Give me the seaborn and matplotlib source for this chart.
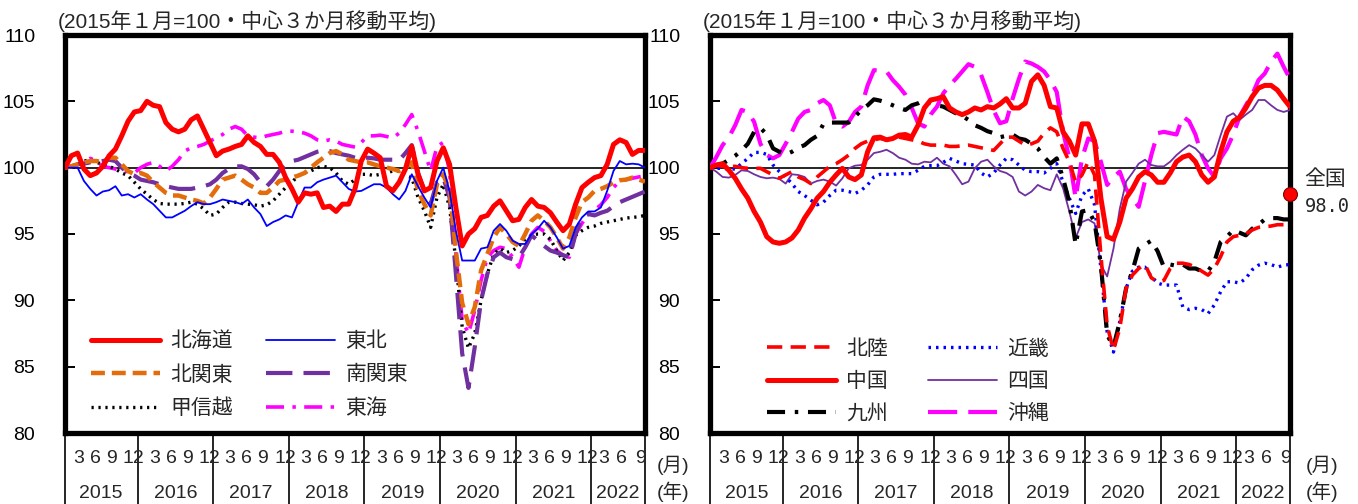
import matplotlib
matplotlib.use("Agg")
import matplotlib.pyplot as plt
import matplotlib.transforms as mtransforms
import pandas as pd
import seaborn as sns

# ---------------- data ----------------
months = list(range(93))  # 2015-01 .. 2022-09
year_labels = ["2015", "2016", "2017", "2018", "2019", "2020", "2021", "2022"]
month_labels = ["3", "6", "9", "12"]
last_month_labels = ["3", "6", "9"]

hokkaido = [100, 100.9, 101.1, 99.9, 99.4, 99.6, 100.1, 100.9, 101.4, 102.4, 103.5, 104.2, 104.3, 105.0, 104.7, 104.6,
            103.4, 102.9, 102.7, 102.9, 103.6, 103.9, 102.9, 101.9, 100.9, 101.25, 101.4, 101.6, 101.75, 102.4, 101.9,
            101.6, 101.0, 101.0, 100.4, 99.25, 98.4, 97.4, 98.1, 98.0, 98.1, 97.0, 97.1, 96.7, 97.25, 97.25, 98.4,
            100.5, 101.4, 101.1, 100.75, 98.6, 98.25, 98.9, 99.9, 101.6, 99.5, 98.25, 98.5, 100.5, 101.5, 100.25, 97,
            94.1, 95.0, 95.4, 96.25, 96.4, 97.1, 97.5, 96.75, 96.0, 96.1, 97.0, 97.6, 97.1, 97.0, 96.6, 95.9, 95.25,
            95.75, 97.25, 98.5, 98.9, 99.25, 99.4, 100.25, 101.75, 102.1, 101.9, 101, 101.3, 101.3]
tohoku = [100, 100, 100, 99, 98.4, 97.9, 98.2, 98.3, 98.6, 97.9, 98, 97.75, 98, 97.6, 97.25, 96.75, 96.25, 96.25, 96.5,
          96.75, 97.1, 97.4, 97.25, 97.25, 97.4, 97.6, 97.5, 97.4, 97.25, 97.6, 97, 96.5, 95.6, 95.9, 96.1, 96.4, 96.25,
          97.4, 98.5, 98.5, 98.9, 99.1, 99.25, 99.4, 98.9, 98.4, 98.2,
          98.25, 98.5, 98.75, 98.75, 98.5, 98, 97.6, 98.25, 99.5, 98.6, 97.75, 97, 99, 100, 98.25, 95.25, 93, 93, 93,
          93.9, 94, 95.25, 95.75, 95.25, 94.5, 94.25, 94.25, 95, 95.4, 96, 95.5, 94.75, 93.9, 94.1, 95.5, 96.25, 96.7,
          96.7, 97, 98.25, 99.75, 100.5, 100.25, 100.3, 100.25, 100]
kitakanto = [100, 100.1, 100.25, 100.4, 100.5, 100.5, 100.4, 100.75, 100.75, 100.25, 99.75, 99.5, 99.6, 99.4, 98.9, 98.5,
             98.1, 97.9, 97.9, 97.75, 97.6, 97.5, 97.3, 97.75, 98.4, 99.1, 99.25, 99.4, 99.1, 98.75, 98.5, 98.1, 98.1,
             98.5, 99, 99.1, 99.25, 99.4, 99.6, 100, 100.4, 100.75, 101.1, 101.25, 101, 100.6, 100.5,
             100.4, 100.4, 100.25, 100.1, 100, 99.9, 99.75, 100, 100.4, 98.25, 97.25, 96.4, 98.75, 99.5, 98.25, 93.75,
             89.8, 88.2, 89.5, 92.25, 93.5, 94.75, 95.5, 95, 94.4, 94.1, 95, 96, 96.4, 96, 95.5, 94.75, 93.9, 94.75,
             96.25, 97.4, 97.75, 98.25, 98.4, 98.6, 98.9, 99.05, 99.1, 99.25, 99.1, 98.95]
minamikanto = [100, 100.1, 100.25, 100.3, 100.4, 100.4, 100.5, 100.6, 100.5, 100, 99.6, 99.4, 99.1, 99, 98.9, 98.75,
               98.6, 98.5, 98.4, 98.4, 98.4, 98.5, 98.6, 98.75, 99.1, 99.6, 99.9, 100.1, 100.1, 99.9, 99.5, 98.9, 98.6,
               99.1, 99.75, 100.25, 100.5, 100.6, 100.8, 101, 101.2, 101.3, 101.25, 101.1, 101, 100.9, 100.75,
               100.75, 100.75, 100.7, 100.6, 100.6, 100.6, 100.55, 101.1, 101.7, 99.6, 98.25, 97.25, 98.9, 99.25, 97.75,
               92.0, 86.0, 83.4, 86.5, 90, 92, 93.25, 93.6, 93.25, 93.1, 93.25, 94, 94.9, 94.5, 94.1, 93.75, 93.6, 93.4,
               93.25, 95, 96.25, 96.5, 96.4, 96.6, 96.75, 97.1, 97.4, 97.6, 97.8, 98, 98.2]
koshinetsu = [100, 100.1, 100.25, 100.5, 100.6, 100.4, 100.25, 100.1, 99.9, 99.6, 99.4, 98.9, 98.4, 98, 97.6, 97.3,
              97.25, 97.25, 97.25, 97.3, 97.4, 97.25, 96.9, 96.4, 96.5, 97, 97.4, 97.4, 97.3, 97.25, 97.2, 97.1, 97.2,
              97.5, 98, 98.5, 98.9, 99.4, 99.6, 99.75, 100, 100.1, 100, 99.6, 99, 98.75, 99.1,
              99.5, 99.5, 99.4, 99.5, 99.6, 99.75, 99.75, 99.4, 99.25, 97.75, 96.75, 95.5, 97.75, 98.75, 97, 93, 88,
              86.4, 87.5, 90, 92, 93.5, 93.9, 93.6, 93.75, 94.1, 94.6, 94.9, 95, 95, 94.6, 93.75, 93, 93.6, 94.9, 95.25,
              95.5, 95.6, 95.8, 95.9, 96, 96.1, 96.2, 96.25, 96.3, 96.4]
tokai = [100, 100.1, 100.25, 100.4, 100.7, 100.5, 100.1, 100, 99.9, 99.75, 99.7, 99.6, 100, 100.25, 100.4, 100.1, 99.75,
         100.1, 100.6, 101.25, 101.5, 101.6, 101.75, 102, 102.25, 102.5, 102.9, 103.1, 102.9, 102.4, 102.3, 102.25,
         102.4, 102.5, 102.6, 102.75, 102.75, 102.7, 102.6, 102.4, 102.1, 102, 102.1, 102, 101.75, 101.65, 101.55,
         101.9, 102.4, 102.4, 102.45, 102.35, 102.25, 102.6, 103.25, 104, 102.75, 101.25, 99.75, 101.6, 101.9, 99.75,
         93.5, 88.5, 87.5, 89.25, 91.5, 93.25, 93.75, 94, 93.9, 93.25, 92.5, 94, 95, 95.5, 95.2, 94.5, 93.75, 93.4,
         93.25, 95, 95.8, 96.5, 96.8, 97.2, 97.75, 98.5, 99, 99.1, 99.2, 99.3, 99.4]

hokuriku = [100, 100.2, 100.1, 100.1, 100.1, 100, 99.95, 99.95, 99.95, 99.7, 99.45, 99.2, 99.45, 99.7, 99.3, 99.1, 98.8,
            99.3, 99.7, 100.1, 100.3, 100.6, 100.95, 101.45, 101.8, 102, 102.1, 102.2, 102.1, 102.2, 102.3, 102.2,
            102.1, 102.0, 101.8, 101.7, 101.7, 101.7, 101.6, 101.6, 101.65, 101.7, 101.6, 101.5, 101.4, 101.3, 101.8,
            102.3, 102.3, 102, 101.7, 101.8, 102, 102.6, 103, 102.7, 101.45, 100.45, 98.9, 99.45, 100.45, 99.45,
            93.4, 88.1, 86.25, 87.9, 90.9, 91.9, 92.4, 92.7, 91.7, 91.4, 91.5, 92.4, 92.8, 92.8, 92.7, 92.5, 92.2,
            91.9, 92.4, 93.3, 94.4, 94.8, 94.9, 95, 95.3, 95.5, 95.55, 95.6, 95.7, 95.7, 95.8]
chugoku = [100, 100.2, 100.3, 99.8, 99.2, 98.4, 97.7, 96.7, 95.9, 94.8, 94.4, 94.3, 94.4, 94.7, 95.3, 96.2, 96.9, 97.7,
           98.2, 98.9, 99.45, 99.95, 99.3, 99.1, 99.45, 101.2, 102.25, 102.3, 102.1, 102.2, 102.45, 102.5, 102.3, 103.2,
           104.5, 105.1, 105.2, 105.35, 104.5, 104.2, 104.0, 104.2, 104.5, 104.35, 104.6, 104.5, 104.8,
           105.2, 104.5, 104.5, 104.85, 106.5, 107, 106.2, 104.6, 104.5, 102.7, 102, 100.95, 103.3, 103.3, 102, 97.7,
           94.8, 94.6, 95.9, 97.7, 98.4, 99.3, 99.7, 99.45, 98.9, 98.9, 99.6, 100.45, 100.8, 100.95, 100.45, 99.45,
           98.9, 99.3, 101.2, 102.7, 103.5, 103.8, 104.5, 105.35, 106, 106.2, 106.2, 105.85, 105.2, 104.6]
kyushu = [100, 100.2, 100.3, 100.6, 100.9, 101.3, 101.8, 102.7, 103, 102.5, 101.45, 101.2, 101, 101.2, 101.5, 101.7,
          102.1, 102.4, 103.3, 103.4, 103.4, 103.4, 103.4, 103.85, 104.35, 104.7, 105.15, 105.05, 104.9, 104.7, 104.5,
          104.35, 104.7, 104.85, 105.1, 104.85, 104.7, 104.6, 104.35, 104.1, 103.9, 103.6, 103.2, 103, 102.75, 102.6,
          102.3, 102.4, 102.5, 102.2, 102.1, 101.8, 101.45, 100.8, 100.3, 100.7, 99.2, 97.4, 94.2, 96.7, 96.8, 95.9,
          92.7, 87.4, 86.5, 88.4, 90.9, 92.2, 93.9, 94.2, 94.5, 93.7, 92.5, 92.7, 92.6, 92.7, 92.4, 92.4, 92.2, 92.2,
          92.9, 94.4, 94.8, 95.3, 95.1, 94.9, 95.4, 95.7, 96.1, 96.2, 96.2, 96.1, 96.1]
kinki = [100, 99.95, 99.95, 99.9, 99.9, 100.3, 100.7, 101.15, 101.15, 101, 100.2, 99.7, 99.3, 98.8, 98.2, 97.9, 97.55,
         97.2, 97.4, 97.9, 98.3, 98.3, 98.2, 98.05, 98.3, 98.7, 99.3, 99.5, 99.5, 99.5, 99.55, 99.55, 99.55, 99.8,
         100.1, 100.15, 100.15, 100.4, 100.7, 100.5, 100.3, 100.25, 100.2, 99.6, 99.3, 99.6, 100.2,
         100.7, 100.6, 100.2, 99.8, 99.7, 99.7, 99.6, 99.95, 100.3, 98.9, 97.7, 96.55, 97.9, 98.4, 97.2, 92.4, 87.6,
         86.1, 88.4, 90.9, 92.2, 92.5, 92.5, 91.8, 91.3, 91.15, 91.15, 91.15, 89.5, 89.3, 89.4, 89.3, 89.0, 89.65,
         90.65, 91.4, 91.4, 91.3, 91.65, 92.3, 92.65, 92.8, 92.7, 92.5, 92.65, 92.7]
shikoku = [100, 99.7, 99.3, 99.25, 99.45, 99.8, 99.75, 99.5, 99.3, 99.2, 99.25, 99.15, 98.8, 99.5, 99.45, 99.3, 98.8,
           99.0, 99.1, 98.95, 98.65, 99.2, 99.95, 100.15, 100.2, 100.6, 101.1, 101.2, 101.35, 101.1, 100.75, 100.6,
           100.3, 100.25, 100.45, 100.4, 100.75, 100.3, 100.1, 99.45, 98.75, 98.95, 99.95, 100.45, 100.6, 100.1, 99.75,
           99.6, 99.3, 98.2, 97.9, 98.2, 98.7, 98.45, 98.3, 99.5, 98.45, 96.7, 94.7, 95.9, 96.1, 95.8, 92.7, 91.8,
           93.9, 96.9, 98.95, 99.6, 100.3, 100.6, 100.2, 100.1, 100.1, 100.45, 100.95, 101.35, 101.7, 101.45, 100.95,
           100.45, 100.95, 102.45, 103.85, 104.1, 103.6, 104, 104.35, 105.1, 105.1, 104.7, 104.35, 104.2, 104.35]
okinawa = [100, 100.8, 101.7, 102.3, 103.2, 104.35, 104.2, 103.45, 101.8, 100.95, 100.7, 100.95, 101.8, 102.7, 103.7,
           104.2, 104.35, 104.85, 105.1, 104.7, 103.35, 103.1, 103.45, 104.2, 104.6, 106.2, 107.35, 107.3, 107.25,
           106.6, 106.1, 105.5, 104.5, 103.35, 103.1, 104, 104.6, 105.6, 106.2, 106.7, 107.25, 107.8, 107.6, 107,
           105.7, 104.3, 103.35,
           103.5, 105.2, 106.7, 108, 107.85, 107.6, 107.25, 106.6, 105.7, 102.7, 100.7, 97.7, 100.7, 102.2, 102,
           100.45, 98.7, 99.3, 99.7, 98.4, 97.7, 97.05, 99, 100.95, 102.6, 102.7, 102.6, 102.5, 103.85, 103.5, 102.5,
           100.95, 99.95, 99.3, 100.7, 101.45, 102.5, 103.85, 104.7, 105.5, 106.6, 107.1, 108, 108.6, 107.6, 106.7]

zenkoku_label = "全国"
zenkoku_value = 98.0

title_text = "(2015年１月=100・中心３か月移動平均)"

# ---------------- style ----------------
sns.set_style("white")
plt.rcParams["font.family"] = ["Liberation Sans", "Noto Sans CJK JP"]
plt.rcParams["lines.scale_dashes"] = False

W, H = 1358, 504
fig = plt.figure(figsize=(W / 100, H / 100), dpi=100)
fig.patch.set_facecolor("white")

ax_top, ax_bot = 35, 433
axL = fig.add_axes([65 / W, 1 - ax_bot / H, 580 / W, (ax_bot - ax_top) / H])
axR = fig.add_axes([710 / W, 1 - ax_bot / H, 580 / W, (ax_bot - ax_top) / H])

left_series = [
    ("北海道", hokkaido, dict(color="#FF0000", linewidth=3.6, linestyle="-")),
    ("東北", tohoku, dict(color="#0000FF", linewidth=1.3, linestyle="-")),
    ("北関東", kitakanto, dict(color="#E46C0A", linewidth=3.2, linestyle=(0, (10, 5)))),
    ("南関東", minamikanto, dict(color="#7030A0", linewidth=3.0, linestyle=(0, (19, 8)))),
    ("甲信越", koshinetsu, dict(color="#000000", linewidth=2.4, linestyle=(0, (1.6, 3.4)))),
    ("東海", tokai, dict(color="#FF00FF", linewidth=2.6, linestyle=(0, (13, 6, 2.5, 6)))),
]
right_series = [
    ("北陸", hokuriku, dict(color="#FF0000", linewidth=2.6, linestyle=(0, (11, 6)))),
    ("中国", chugoku, dict(color="#FF0000", linewidth=3.6, linestyle="-")),
    ("九州", kyushu, dict(color="#000000", linewidth=3.0, linestyle=(0, (13, 7, 2.5, 7)))),
    ("近畿", kinki, dict(color="#0000FF", linewidth=2.4, linestyle=(0, (1.8, 3.6)))),
    ("四国", shikoku, dict(color="#7030A0", linewidth=1.3, linestyle="-")),
    ("沖縄", okinawa, dict(color="#FF00FF", linewidth=3.0, linestyle=(0, (21, 8)))),
]

draw_order_left = ["東海", "甲信越", "南関東", "北関東", "東北", "北海道"]
draw_order_right = ["沖縄", "四国", "近畿", "九州", "北陸", "中国"]

# month label offsets (in months) from the right-hand separator of each year cell
full_year_offsets = [-9.35, -6.65, -4.1, -0.6]
last_year_offsets = [-6.5, -3.7, -0.7]


def setup_axis(ax, series, draw_order, legend_order, leg_anchor, leg_spacing, col_spacing, month_suffix_x):
    lookup = {name: (vals, kw) for name, vals, kw in series}
    for name in draw_order:
        vals, kw = lookup[name]
        df = pd.DataFrame({"month": months, "value": vals})
        sns.lineplot(data=df, x="month", y="value", ax=ax, label=name, estimator=None,
                     errorbar=None, sort=False, zorder=3, **kw)
    ax.axhline(100, color="black", linewidth=1.2, zorder=2)
    ax.set_xlim(0, 92)
    ax.set_ylim(80, 110)
    ax.set_yticks([80, 85, 90, 95, 100, 105, 110])
    ax.set_xticks([])
    ax.set_xlabel("")
    ax.set_ylabel("")
    ax.tick_params(axis="y", direction="in", length=7, width=1.4, left=True, right=False,
                   labelsize=14, pad=21.5, colors="black")
    for sp in ax.spines.values():
        sp.set_visible(True)
        sp.set_color("black")
        sp.set_linewidth(3.8)
    ax.set_facecolor("white")

    handles, labels = ax.get_legend_handles_labels()
    hmap = dict(zip(labels, handles))
    ax.legend([hmap[n] for n in legend_order], legend_order, ncol=2, loc="upper left",
              bbox_to_anchor=leg_anchor, frameon=False, fontsize=15, handlelength=3.3,
              handletextpad=0.5, columnspacing=col_spacing, labelspacing=leg_spacing,
              borderpad=0, borderaxespad=0)

    # x-axis table
    trans = mtransforms.blended_transform_factory(ax.transData, ax.transAxes)
    seps = [0] + [11.5 + 12 * k for k in range(7)] + [92]
    for s in seps:
        ax.plot([s, s], [0, -0.18], transform=trans, color="black", linewidth=1.2, clip_on=False)
    for yi, yl in enumerate(year_labels):
        start = seps[yi]
        end = seps[yi + 1]
        ax.text((start + end) / 2, -0.151, yl, transform=trans, ha="center", va="center", fontsize=14)
        if yi == len(year_labels) - 1:
            labs, offs = last_month_labels, last_year_offsets
        else:
            labs, offs = month_labels, full_year_offsets
        for ml, off in zip(labs, offs):
            ax.text(end + off, -0.063, ml, transform=trans, ha="center", va="center", fontsize=14)
    ax.text(month_suffix_x, -0.081, "(月)", transform=trans, ha="center", va="center", fontsize=14)
    ax.text(month_suffix_x, -0.147, "(年)", transform=trans, ha="center", va="center", fontsize=14)
    ax.text(-0.013, 1.034, title_text, transform=ax.transAxes, ha="left", va="center", fontsize=15)


setup_axis(axL, left_series, draw_order_left,
           ["北海道", "北関東", "甲信越", "東北", "南関東", "東海"],
           (0.045, 0.256), 0.68, 1.6, 96.4)
setup_axis(axR, right_series, draw_order_right,
           ["北陸", "中国", "九州", "近畿", "四国", "沖縄"],
           (0.098, 0.236), 0.64, 1.95, 97.1)

# 全国 marker
axR.plot([92], [zenkoku_value], marker="o", markersize=10, markerfacecolor="#FF0000",
         markeredgecolor="#7F0000", markeredgewidth=0.8, clip_on=False, zorder=10, linestyle="none")
axR.text(94.3, 99.12, zenkoku_label, ha="left", va="center", fontsize=15, clip_on=False)
axR.text(94.3, 97.06, f"{zenkoku_value:.1f}", ha="left", va="center", fontsize=13.5,
         family="DejaVu Sans Mono", clip_on=False)

fig.savefig("out.png", dpi=100, facecolor="white")
